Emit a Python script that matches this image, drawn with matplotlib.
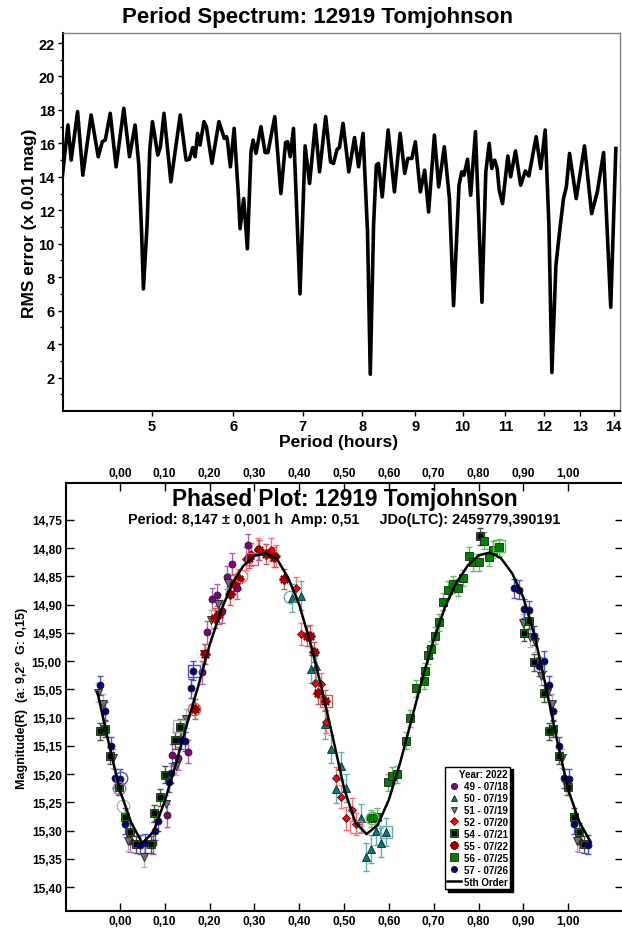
import numpy as np
import matplotlib
matplotlib.use("Agg")
import matplotlib.pyplot as plt
from matplotlib.lines import Line2D

plt.rcParams["font.family"] = ["Liberation Sans", "DejaVu Sans"]
plt.rcParams["font.weight"] = "bold"

# --- period spectrum: RMS error vs trial period (hours) ---
periods = [4.10, 4.15, 4.18, 4.24, 4.29, 4.37, 4.44, 4.48, 4.51, 4.56, 4.62, 4.70, 4.76, 4.82,
           4.86, 4.89, 4.91, 4.95, 4.98, 5.01, 5.07, 5.10, 5.14, 5.22, 5.33, 5.40, 5.44, 5.48,
           5.51, 5.54, 5.57, 5.62, 5.65, 5.72, 5.81, 5.88, 5.91, 5.92, 5.96, 6.01, 6.07, 6.09,
           6.14, 6.19, 6.24, 6.27, 6.31, 6.38, 6.44, 6.48, 6.58, 6.67, 6.74, 6.77, 6.81, 6.86,
           6.96, 7.04, 7.11, 7.20, 7.27, 7.37, 7.45, 7.50, 7.56, 7.60, 7.66, 7.76, 7.86, 7.93,
           8.01, 8.09, 8.14, 8.20, 8.25, 8.29, 8.36, 8.47, 8.59, 8.70, 8.79, 8.85, 8.93, 9.00,
           9.10, 9.19, 9.27, 9.39, 9.48, 9.60, 9.71, 9.80, 9.92, 9.98, 10.03, 10.11, 10.18,
           10.29, 10.44, 10.53, 10.61, 10.67, 10.74, 10.80, 10.85, 10.93, 11.06, 11.13, 11.25,
           11.38, 11.50, 11.59, 11.78, 11.90, 12.02, 12.12, 12.20, 12.31, 12.41, 12.52, 12.60,
           12.69, 12.88, 13.12, 13.33, 13.50, 13.69, 13.91, 14.07]
rms_error = [14.1, 17.1, 15.0, 17.9, 14.1, 17.7, 15.2, 16.1, 16.2, 17.8, 14.6, 18.1, 15.2, 17.1,
             14.7, 10.7, 7.3, 11.1, 15.6, 17.3, 15.3, 15.8, 17.8, 13.7, 17.7, 15.0, 15.05, 15.75,
             15.2, 16.6, 15.9, 17.3, 17.0, 14.8, 17.3, 16.3, 16.4, 16.2, 14.6, 16.9, 12.7, 10.9,
             12.7, 9.7, 15.5, 16.2, 15.4, 17.0, 15.45, 15.45, 17.6, 13.0, 16.05, 16.1, 15.2, 16.9,
             7.0, 15.85, 13.6, 17.1, 14.3, 17.6, 14.9, 14.8, 15.65, 15.75, 17.2, 14.3, 16.35, 14.6,
             16.6, 10.7, 2.2, 11.1, 14.7, 14.8, 12.8, 16.8, 13.1, 16.6, 14.2, 15.1, 15.1, 16.1,
             13.1, 14.4, 11.9, 16.5, 13.4, 15.8, 12.7, 6.3, 13.5, 14.3, 14.1, 15.05, 12.9,
             16.7, 6.5, 14.3, 16.0, 14.5, 15.0, 14.5, 13.2, 12.4, 15.25, 14.0, 15.55,
             13.5, 14.35, 14.05, 16.4, 14.5, 16.8, 11.1, 2.3, 8.7, 10.7, 12.7, 13.4,
             15.4, 12.7, 15.85, 11.8, 13.1, 15.45, 6.2, 15.7]
period_ticks = [5, 6, 7, 8, 9, 10, 11, 12, 13, 14]

# --- phased light curve, one entry per session ---
sessions = ["49 - 07/18", "50 - 07/19", "51 - 07/19", "52 - 07/20",
            "54 - 07/21", "55 - 07/22", "56 - 07/25", "57 - 07/26"]
phase_49 = [0.023, 0.074, 0.105, 0.117, 0.129, 0.151, 0.184, 0.195, 0.205, 0.216, 0.227, 0.239,
            0.251, 0.262, 0.285]
mag_49 = [15.318, 15.322, 15.273, 15.166, 15.172, 15.160, 15.020, 14.949, 14.890, 14.883, 14.912,
          14.852, 14.828, 14.871, 14.795]
phase_50 = [0.383, 0.405, 0.427, 0.438, 0.458, 0.470, 0.482, 0.494, 0.505, 0.537, 0.550, 0.561,
            0.572, 0.583, 0.594]
mag_50 = [14.888, 14.884, 15.014, 15.009, 15.112, 15.155, 15.226, 15.186, 15.225, 15.278, 15.346,
          15.332, 15.300, 15.321, 15.302]
phase_51 = [0.019, 0.053, 0.103, 0.125, 0.147, 0.188, 0.203, 0.218, 0.242, 0.898, 0.915, 0.925,
            0.940, 0.952, 0.963, 0.985, 0.995]
mag_51 = [15.318, 15.347, 15.253, 15.185, 15.102, 14.987, 14.927, 14.899, 14.861, 14.933, 14.958,
          14.967, 15.026, 15.056, 15.076, 15.172, 15.220]
phase_52 = [0.281, 0.292, 0.309, 0.337, 0.348, 0.392, 0.404, 0.436, 0.449, 0.460, 0.482, 0.493,
            0.504, 0.517, 0.526]
mag_52 = [14.819, 14.811, 14.802, 14.803, 14.814, 14.871, 14.952, 15.038, 15.041, 15.107, 15.207,
          15.240, 15.278, 15.263, 15.288]
phase_54 = [0.012, 0.023, 0.036, 0.069, 0.077, 0.090, 0.100, 0.123, 0.134, 0.803, 0.901, 0.913,
            0.924, 0.946, 0.956, 0.967, 0.979, 0.999]
mag_54 = [15.275, 15.302, 15.324, 15.324, 15.269, 15.241, 15.201, 15.140, 15.117, 14.779, 14.950,
          14.929, 15.002, 15.057, 15.124, 15.120, 15.167, 15.222]
phase_55 = [0.167, 0.190, 0.212, 0.221, 0.245, 0.255, 0.266, 0.288, 0.311, 0.326, 0.343, 0.367,
            0.418, 0.424, 0.432, 0.443, 0.457]
mag_55 = [15.085, 14.988, 14.924, 14.917, 14.882, 14.864, 14.855, 14.817, 14.804, 14.811, 14.816,
          14.855, 14.956, 14.955, 14.984, 15.057, 15.070]
phase_56 = [0.560, 0.574, 0.598, 0.608, 0.619, 0.638, 0.648, 0.660, 0.678, 0.680, 0.687, 0.693,
            0.702, 0.712, 0.721, 0.732, 0.743, 0.754, 0.765, 0.779, 0.788, 0.800, 0.812, 0.823,
            0.832, 0.846]
mag_56 = [15.278, 15.275, 15.214, 15.203, 15.200, 15.141, 15.101, 15.048, 15.035, 15.018, 14.990,
          14.979, 14.955, 14.931, 14.895, 14.874, 14.864, 14.870, 14.853, 14.814, 14.825, 14.825,
          14.787, 14.816, 14.803, 14.799]
phase_57 = [0.001, 0.012, 0.045, 0.056, 0.079, 0.086, 0.110, 0.115, 0.136, 0.145, 0.158, 0.164,
            0.878, 0.890, 0.901, 0.912, 0.924, 0.935, 0.946, 0.956, 0.967, 0.980, 0.990]
mag_57 = [15.208, 15.288, 15.325, 15.322, 15.300, 15.283, 15.214, 15.198, 15.139, 15.142, 15.048,
          15.017, 14.871, 14.874, 14.907, 14.910, 14.955, 15.009, 15.000, 15.043, 15.089, 15.151,
          15.207]
mag_err = [0.020, 0.025, 0.017, 0.020, 0.015, 0.018, 0.015, 0.017]

# points flagged in the solution (drawn as open symbols)
flag_phase = [0.002, -0.001, 0.007, 0.166, 0.132, 0.166, 0.271, 0.294, 0.380, 0.459, 0.526,
              0.562, 0.594, 0.846]
flag_mag = [15.206, 15.225, 15.257, 15.017, 15.114, 15.085, 14.849, 14.819, 14.887, 15.070,
            15.294, 15.278, 15.303, 14.797]
flag_session = [7, 0, 2, 7, 2, 5, 3, 0, 1, 5, 3, 6, 1, 6]
flag_shape = ["o", "o", "o", "s", "s", "o", "o", "s", "o", "s", "s", "o", "s", "s"]

# 5th order Fourier fit
fit_phase = [-0.050, -0.025, 0.000, 0.025, 0.050, 0.075, 0.100, 0.125, 0.150, 0.175, 0.200,
             0.225, 0.250, 0.275, 0.300, 0.325, 0.350, 0.375, 0.400, 0.425, 0.450, 0.475,
             0.500, 0.525, 0.550, 0.575, 0.600, 0.625, 0.650, 0.675, 0.700, 0.725, 0.750,
             0.775, 0.800, 0.825, 0.850, 0.875, 0.900, 0.925, 0.950, 0.975, 1.000, 1.025, 1.050]
fit_mag = [15.055, 15.144, 15.228, 15.285, 15.322, 15.302, 15.248, 15.182, 15.111, 15.044, 14.972,
           14.912, 14.864, 14.832, 14.814, 14.809, 14.819, 14.852, 14.900, 14.968, 15.048, 15.135,
           15.225, 15.285, 15.306, 15.290, 15.245, 15.180, 15.105, 15.030, 14.962, 14.905, 14.862,
           14.832, 14.813, 14.808, 14.818, 14.845, 14.888, 14.955, 15.045, 15.140, 15.228, 15.285,
           15.320]
phase_ticks = [0.0, 0.1, 0.2, 0.3, 0.4, 0.5, 0.6, 0.7, 0.8, 0.9, 1.0]
mag_ticks = [14.75, 14.80, 14.85, 14.90, 14.95, 15.00, 15.05, 15.10, 15.15, 15.20, 15.25,
             15.30, 15.35, 15.40]


def comma(v):
    return f"{v:.2f}".replace(".", ",")


def wrap(ph, mag):
    """Repeat the points near phase 0/1 so the plot runs from -0.05 to 1.05."""
    ph = np.asarray(ph)
    mag = np.asarray(mag)
    lo = ph >= 0.95
    hi = ph <= 0.05
    return np.concatenate([ph, ph[lo] - 1, ph[hi] + 1]), np.concatenate([mag, mag[lo], mag[hi]])


fig = plt.figure(figsize=(6.22, 9.29), dpi=100)

# ---------------- period spectrum ----------------
ax1 = fig.add_axes([62.5 / 622, 1 - 412 / 929, 557.5 / 622, 378 / 929])
ax1.plot(periods, rms_error, color="black", linewidth=2.6, solid_joinstyle="round")
ax1.set_xscale("log")
ax1.set_xlim(4.10, 14.2)
ax1.set_ylim(0, 22.6)
ax1.set_xticks(period_ticks)
ax1.set_xticklabels([str(p) for p in period_ticks])
ax1.xaxis.set_minor_locator(matplotlib.ticker.NullLocator())
ax1.set_yticks(range(2, 23, 2))
ax1.set_yticks(range(1, 23, 2), minor=True)
ax1.tick_params(axis="both", which="major", direction="out", length=3.5, width=1,
                labelsize=10.5, pad=2)
ax1.tick_params(axis="y", which="minor", direction="out", length=2.5, width=1)
for lbl in ax1.get_xticklabels() + ax1.get_yticklabels():
    lbl.set_fontweight("bold")
for side in ["left", "bottom"]:
    ax1.spines[side].set_linewidth(1.5)
for side in ["top", "right"]:
    ax1.spines[side].set_color("#808080")
    ax1.spines[side].set_linewidth(1)
fig.text(0.51, 1 - 18 / 929, "Period Spectrum: 12919 Tomjohnson", ha="center", va="center",
         fontsize=16, fontweight="bold")
fig.text(30 / 622, 1 - 223 / 929, "RMS error (x 0.01 mag)", ha="center", va="center",
         rotation=90, fontsize=12.5, fontweight="bold")
fig.text(339 / 622, 1 - 443 / 929, "Period (hours)", ha="center", va="center",
         fontsize=12.5, fontweight="bold")

# ---------------- phased plot ----------------
ax2 = fig.add_axes([66 / 622, 1 - 912 / 929, 557 / 622, 428 / 929])

styles = [
    dict(marker="o", color="#800080", ecolor="#b060b0", ms=5),
    dict(marker="^", color="#007a7a", ecolor="#60b0b0", ms=5.5),
    dict(marker="v", color="#707070", ecolor="#b4b4b4", ms=5.5),
    dict(marker="D", color="#ff0000", ecolor="#ff7070", ms=4),
    dict(marker="s", color="#008000", ecolor="#505050", ms=6),
    dict(marker=(8, 2, 0), color="#990000", ecolor="#c06060", ms=7),
    dict(marker="s", color="#008000", ecolor="#60c060", ms=6),
    dict(marker="o", color="#000080", ecolor="#5050c0", ms=5),
]
data = [(phase_49, mag_49), (phase_50, mag_50), (phase_51, mag_51), (phase_52, mag_52),
        (phase_54, mag_54), (phase_55, mag_55), (phase_56, mag_56), (phase_57, mag_57)]

for i, (ph, mg) in enumerate(data):
    st = styles[i]
    x, y = wrap(ph, mg)
    ax2.errorbar(x, y, yerr=mag_err[i], fmt="none", ecolor=st["ecolor"], elinewidth=1,
                 capsize=2, capthick=1, zorder=2)
    if i == 5:
        ax2.plot(x, y, linestyle="none", marker=st["marker"], ms=st["ms"], mec=st["color"],
                 mew=1.6, zorder=3)
    else:
        ax2.plot(x, y, linestyle="none", marker=st["marker"], ms=st["ms"], mfc=st["color"],
                 mec="#202020", mew=0.6, zorder=3)
    if i == 4:
        ax2.plot(x, y, linestyle="none", marker="s", ms=2.2, mfc="black", mec="black", zorder=3)

for ph, mg, s, shp in zip(flag_phase, flag_mag, flag_session, flag_shape):
    ax2.plot([ph], [mg], linestyle="none", marker=shp, ms=9, mfc="none",
             mec=styles[s]["ecolor"], mew=1, zorder=3)

ax2.plot(fit_phase, fit_mag, color="black", linewidth=1.8, zorder=4)

ax2.set_xlim(-0.12, 1.122)
ax2.set_ylim(15.442, 14.685)
ax2.set_xticks(phase_ticks)
ax2.set_xticklabels([comma(v) for v in phase_ticks])
ax2.set_yticks(mag_ticks)
ax2.set_yticklabels([comma(v) for v in mag_ticks])
ax2.tick_params(axis="both", direction="in", length=6, width=1, labelsize=8.6, pad=3,
                top=True, labeltop=True, right=True)
for lbl in ax2.get_xticklabels() + ax2.get_yticklabels():
    lbl.set_fontweight("bold")
for side in ax2.spines:
    ax2.spines[side].set_linewidth(1.5)
ax2.set_ylabel("Magnitude(R)  (a: 9,2°  G: 0,15)", fontsize=9, fontweight="bold", labelpad=3)

ax2.text(0.5, (912 - 500) / 428, "Phased Plot: 12919 Tomjohnson", transform=ax2.transAxes,
         ha="center", va="center", fontsize=16.3, fontweight="bold")
ax2.text(0.5, (912 - 520) / 428,
         "Period: 8,147 \u00b1 0,001 h  Amp: 0,51     JDo(LTC): 2459779,390191",
         transform=ax2.transAxes, ha="center", va="center", fontsize=10.4, fontweight="bold")

handles = []
for i, st in enumerate(styles):
    if i == 5:
        h = Line2D([], [], linestyle="none", marker=st["marker"], ms=6, mec=st["color"], mew=1.6)
    elif i == 4:
        h = (Line2D([], [], linestyle="none", marker="s", ms=6, mfc=st["color"], mec="#202020",
                    mew=0.6),
             Line2D([], [], linestyle="none", marker="s", ms=2.2, mfc="black", mec="black"))
    else:
        h = Line2D([], [], linestyle="none", marker=st["marker"], ms=st["ms"] * 0.9,
                   mfc=st["color"], mec="#202020", mew=0.6)
    handles.append(h)
handles.append(Line2D([], [], color="black", linewidth=1.8))
labels = sessions + ["5th Order"]

leg = ax2.legend(handles, labels, title="Year: 2022", loc="lower left",
                 bbox_to_anchor=((445 - 66) / 557, (912 - 890) / 428),
                 prop={"size": 7, "weight": "bold"}, title_fontproperties={"size": 7, "weight": "bold"},
                 frameon=True, fancybox=False, shadow={"color": "black", "alpha": 1},
                 framealpha=1, edgecolor="black", borderpad=0.25, labelspacing=0.2,
                 handlelength=1.4, handletextpad=0.3, borderaxespad=0, alignment="right")
leg.get_frame().set_linewidth(1)
leg.set_zorder(5)

fig.savefig("out.png", dpi=100)
